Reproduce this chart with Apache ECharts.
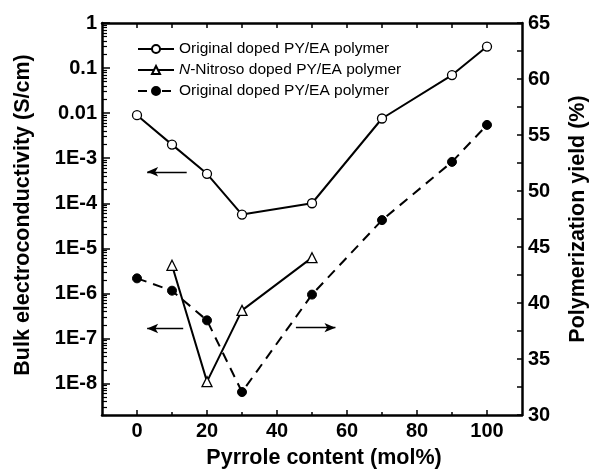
<!DOCTYPE html>
<html>
<head>
<meta charset="utf-8">
<script src="https://cdn.jsdelivr.net/npm/echarts@6/dist/echarts.min.js"></script>
<style>
  html, body { margin: 0; padding: 0; background: #fff; }
  #chart { width: 597px; height: 474px; }
</style>
</head>
<body>
<div id="chart"></div>
<script>
// Pyrrole content (mol%) for each sample
const pyrrole = [0, 10, 20, 30, 50, 70, 90, 100];
// Bulk electroconductivity (S/cm) of the original doped PY/EA polymer
const condOriginal = [9.0e-3, 2.0e-3, 4.5e-4, 5.6e-5, 1.0e-4, 7.6e-3, 7.0e-2, 0.30];
// N-nitroso doped PY/EA polymer
const pyrroleNitroso = [10, 20, 30, 50];
const condNitroso = [4.2e-6, 1.1e-8, 4.2e-7, 6.2e-6];
// Polymerization yield (%) of the original polymer
const yieldOriginal = [42.2, 41.1, 38.45, 32.05, 40.75, 47.4, 52.6, 55.9];

// Axis ticks and labels
const xTickLabels = [0, 20, 40, 60, 80, 100];
const xMinorTicks = [10, 30, 50, 70, 90];
const condDecades = [-8, -7, -6, -5, -4, -3, -2, -1, 0];
const condTickLabels = ['1E-8', '1E-7', '1E-6', '1E-5', '1E-4', '1E-3', '0.01', '0.1', '1'];
const condMin = 2e-9, condMax = 1;

// Legend texts
const legendText = {
  condOriginal: 'Original doped PY/EA polymer',
  condNitroso: '{it|N}-Nitroso doped PY/EA polymer',
  yieldOriginal: 'Original doped PY/EA polymer'
};

// Arrows pointing each curve to its axis
const arrowCondTop = { from: [14.2, 5.0e-4], to: [2.9, 5.0e-4] };
const arrowCondBottom = { from: [13.2, 1.66e-7], to: [2.9, 1.66e-7] };
const arrowYield = { from: [45.4, 37.8], to: [56.7, 37.8] };

const FONT = "'Liberation Sans', Arial, Helvetica, sans-serif";
const lg = v => Math.log10(v);

// minor log ticks (2..9 in every decade)
const condMinorTicks = [];
for (let d = -9; d <= -1; d++) {
  for (let k = 2; k <= 9; k++) {
    const v = lg(k) + d;
    if (v >= lg(condMin) && v <= lg(condMax)) condMinorTicks.push(v);
  }
}

const axisLineStyle = { color: '#000', width: 2.5 };
const tickLineStyle = { color: '#000', width: 1.5 };
const boldLabel = { color: '#000', fontFamily: FONT, fontWeight: 'bold', fontSize: 20 };
const titleStyle = { color: '#000', fontFamily: FONT, fontWeight: 'bold', fontSize: 21.5 };

const chart = echarts.init(document.getElementById('chart'), null, { renderer: 'canvas' });

const arrowMark = (a, toY) => [{ coord: [a.from[0], toY(a.from[1])] }, { coord: [a.to[0], toY(a.to[1])] }];
const markLineBase = {
  silent: true,
  animation: false,
  symbol: ['none', 'arrow'],
  symbolSize: [7, 11],
  label: { show: false },
  lineStyle: { type: 'solid', color: '#000', width: 1.3 },
  emphasis: { disabled: true }
};

chart.setOption({
  animation: false,
  backgroundColor: '#fff',
  grid: { left: 102, right: 71, top: 23, bottom: 57, containLabel: false },
  legend: {
    orient: 'vertical',
    left: 132,
    top: 36,
    itemWidth: 36,
    itemHeight: 10,
    itemGap: 5,
    data: [
      { name: 'condOriginal' },
      { name: 'condNitroso' },
      { name: 'yieldOriginal', lineStyle: { type: [9, 15] } }
    ],
    formatter: name => legendText[name],
    textStyle: {
      color: '#000', fontFamily: FONT, fontSize: 15.5,
      rich: { it: { fontStyle: 'italic', color: '#000', fontFamily: FONT, fontSize: 15.5 } }
    }
  },
  xAxis: [
    {
      type: 'value', position: 'bottom', min: -10, max: 110,
      axisLine: { onZero: false, lineStyle: axisLineStyle },
      axisTick: { inside: true, length: 5, customValues: xTickLabels, lineStyle: tickLineStyle },
      axisLabel: Object.assign({ customValues: xTickLabels, margin: 6 }, boldLabel),
      splitLine: { show: false },
      name: 'Pyrrole content (mol%)', nameLocation: 'middle', nameGap: 32,
      nameTextStyle: Object.assign({}, titleStyle, { padding: [0, 0, 0, 24] })
    },
    {
      type: 'value', position: 'bottom', min: -10, max: 110,
      axisLine: { show: false, onZero: false },
      axisTick: { inside: true, length: 3, customValues: xMinorTicks, lineStyle: tickLineStyle },
      axisLabel: { show: false }, splitLine: { show: false }
    },
    {
      type: 'value', position: 'top', min: -10, max: 110,
      axisLine: { onZero: false, lineStyle: axisLineStyle },
      axisTick: { inside: true, length: 5, customValues: xTickLabels.concat(xMinorTicks), lineStyle: tickLineStyle },
      axisLabel: { show: false }, splitLine: { show: false }
    }
  ],
  yAxis: [
    {
      type: 'value', position: 'left', min: lg(condMin), max: lg(condMax),
      axisLine: { onZero: false, lineStyle: axisLineStyle },
      axisTick: { inside: true, length: 8, customValues: condDecades, lineStyle: tickLineStyle },
      axisLabel: Object.assign({
        customValues: condDecades, margin: 5,
        formatter: v => condTickLabels[condDecades.indexOf(Math.round(v))]
      }, boldLabel),
      splitLine: { show: false },
      name: 'Bulk electroconductivity (S/cm)', nameLocation: 'middle', nameRotate: 90, nameGap: 68,
      nameTextStyle: Object.assign({}, titleStyle, { padding: [0, 0, 0, 8] })
    },
    {
      type: 'value', position: 'left', min: lg(condMin), max: lg(condMax),
      axisLine: { show: false, onZero: false },
      axisTick: { inside: true, length: 5, customValues: condMinorTicks, lineStyle: { color: '#000', width: 1.2 } },
      axisLabel: { show: false }, splitLine: { show: false }
    },
    {
      type: 'value', position: 'right', min: 30, max: 65, interval: 5,
      axisLine: { onZero: false, lineStyle: axisLineStyle },
      axisTick: { inside: true, length: 5, lineStyle: tickLineStyle },
      minorTick: { show: true, splitNumber: 2, length: 5, lineStyle: tickLineStyle },
      axisLabel: Object.assign({ margin: 6 }, boldLabel),
      splitLine: { show: false },
      name: 'Polymerization yield (%)', nameLocation: 'middle', nameRotate: 90, nameGap: 45,
      nameTextStyle: titleStyle
    }
  ],
  series: [
    {
      name: 'condOriginal', type: 'line', xAxisIndex: 0, yAxisIndex: 0,
      data: pyrrole.map((x, i) => [x, lg(condOriginal[i])]),
      symbol: 'circle', symbolSize: 9,
      itemStyle: { color: '#fff', borderColor: '#000', borderWidth: 1.3 },
      lineStyle: { color: '#000', width: 2 },
      z: 3,
      markLine: Object.assign({}, markLineBase, {
        data: [arrowMark(arrowCondTop, lg), arrowMark(arrowCondBottom, lg)]
      })
    },
    {
      name: 'condNitroso', type: 'line', xAxisIndex: 0, yAxisIndex: 0,
      data: pyrroleNitroso.map((x, i) => [x, lg(condNitroso[i])]),
      symbol: 'triangle', symbolSize: 10,
      itemStyle: { color: '#fff', borderColor: '#000', borderWidth: 1.3 },
      lineStyle: { color: '#000', width: 2 },
      z: 3
    },
    {
      name: 'yieldOriginal', type: 'line', xAxisIndex: 0, yAxisIndex: 2,
      data: pyrrole.map((x, i) => [x, yieldOriginal[i]]),
      symbol: 'circle', symbolSize: 9,
      itemStyle: { color: '#000', borderColor: '#000', borderWidth: 1 },
      lineStyle: { color: '#000', width: 2, type: [10, 7] },
      z: 2,
      markLine: Object.assign({}, markLineBase, {
        data: [arrowMark(arrowYield, v => v)]
      })
    }
  ]
});
</script>
</body>
</html>
